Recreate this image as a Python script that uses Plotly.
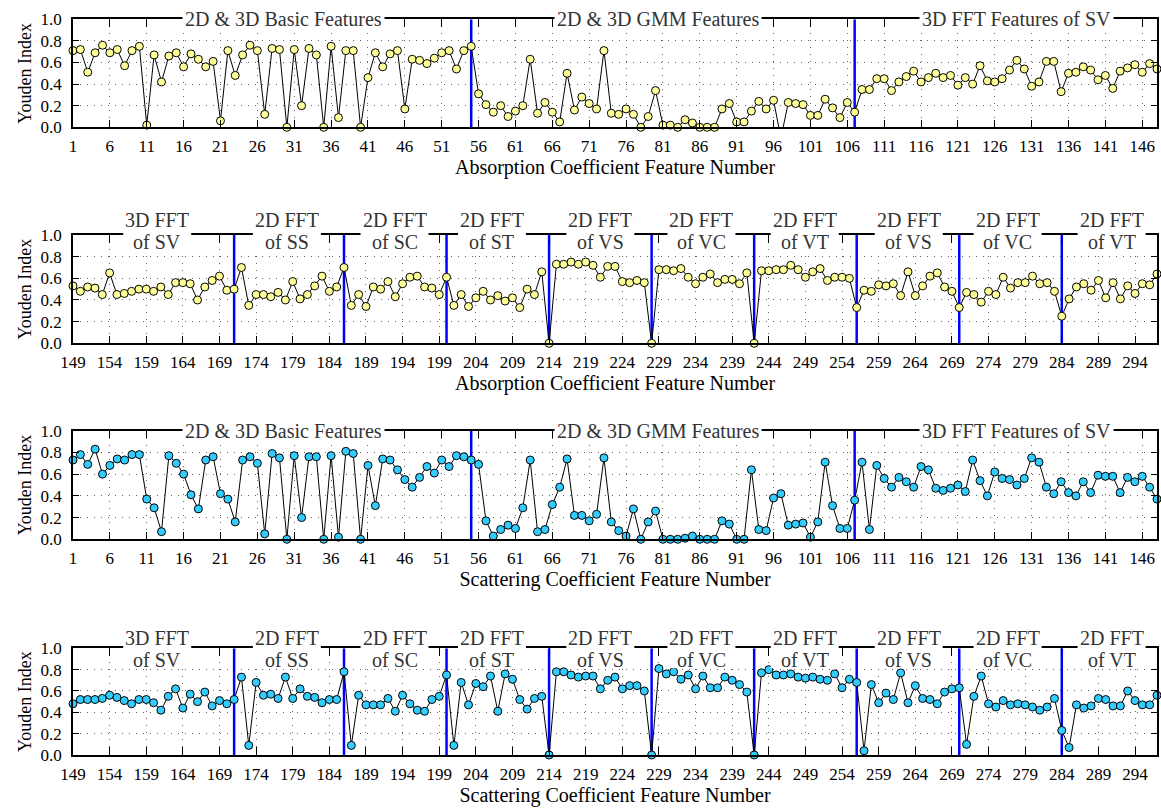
import plotly.graph_objects as go

# ---------------- data ----------------
feat_a = list(range(1, 149))     # features 1..148
feat_b = list(range(149, 298))   # features 149..297

abs_a = [0.71, 0.72, 0.51, 0.69, 0.76, 0.69, 0.72, 0.57, 0.71, 0.75,
         0.02, 0.67, 0.42, 0.66, 0.69, 0.56, 0.68, 0.63, 0.56, 0.61,
         0.06, 0.71, 0.48, 0.67, 0.76, 0.71, 0.12, 0.73, 0.72, 0.00,
         0.72, 0.20, 0.73, 0.67, 0.00, 0.75, 0.09, 0.71, 0.71, 0.00,
         0.46, 0.69, 0.56, 0.68, 0.71, 0.17, 0.63, 0.62, 0.59, 0.64,
         0.69, 0.71, 0.54, 0.71, 0.75, 0.31, 0.21, 0.14, 0.20, 0.10,
         0.15, 0.20, 0.63, 0.13, 0.23, 0.14, 0.05, 0.50, 0.16, 0.28,
         0.22, 0.17, 0.71, 0.13, 0.12, 0.17, 0.12, 0.00, 0.10, 0.34,
         0.02, 0.02, 0.00, 0.07, 0.04, 0.00, 0.00, 0.00, 0.17, 0.22,
         0.05, 0.05, 0.15, 0.24, 0.17, 0.25, -0.10, 0.23, 0.22, 0.21,
         0.11, 0.11, 0.26, 0.18, 0.09, 0.23, 0.14, 0.35, 0.35, 0.45,
         0.45, 0.34, 0.42, 0.47, 0.52, 0.42, 0.46, 0.50, 0.46, 0.48,
         0.39, 0.46, 0.40, 0.57, 0.43, 0.42, 0.45, 0.53, 0.62, 0.54,
         0.38, 0.42, 0.61, 0.61, 0.33, 0.50, 0.51, 0.56, 0.53, 0.44,
         0.48, 0.36, 0.52, 0.55, 0.58, 0.51, 0.59, 0.54]

abs_b = [0.53, 0.48, 0.52, 0.51, 0.45, 0.65, 0.45, 0.46, 0.48, 0.50,
         0.50, 0.48, 0.52, 0.45, 0.56, 0.56, 0.55, 0.40, 0.52, 0.58,
         0.62, 0.49, 0.50, 0.70, 0.35, 0.45, 0.45, 0.43, 0.47, 0.40,
         0.57, 0.41, 0.45, 0.53, 0.62, 0.48, 0.52, 0.70, 0.35, 0.45,
         0.34, 0.52, 0.50, 0.57, 0.43, 0.55, 0.61, 0.62, 0.52, 0.51,
         0.45, 0.61, 0.35, 0.45, 0.34, 0.42, 0.48, 0.40, 0.44, 0.39,
         0.42, 0.33, 0.50, 0.45, 0.66, 0.00, 0.73, 0.73, 0.75, 0.73,
         0.75, 0.72, 0.61, 0.71, 0.71, 0.57, 0.56, 0.58, 0.56, 0.00,
         0.68, 0.68, 0.67, 0.69, 0.61, 0.55, 0.61, 0.64, 0.56, 0.59,
         0.59, 0.55, 0.65, 0.00, 0.67, 0.67, 0.68, 0.68, 0.72, 0.68,
         0.61, 0.66, 0.69, 0.58, 0.61, 0.61, 0.60, 0.33, 0.49, 0.48,
         0.54, 0.53, 0.55, 0.44, 0.66, 0.44, 0.53, 0.62, 0.65, 0.52,
         0.48, 0.33, 0.47, 0.45, 0.38, 0.48, 0.45, 0.61, 0.51, 0.56,
         0.56, 0.62, 0.55, 0.56, 0.48, 0.25, 0.41, 0.52, 0.55, 0.49,
         0.58, 0.42, 0.56, 0.41, 0.53, 0.46, 0.55, 0.54, 0.64]

sca_a = [0.73, 0.78, 0.69, 0.83, 0.60, 0.68, 0.74, 0.73, 0.78, 0.78,
         0.37, 0.29, 0.07, 0.77, 0.70, 0.60, 0.41, 0.28, 0.73, 0.76,
         0.42, 0.37, 0.16, 0.73, 0.76, 0.70, 0.05, 0.79, 0.75, 0.00,
         0.77, 0.20, 0.76, 0.76, 0.00, 0.77, 0.02, 0.81, 0.79, 0.00,
         0.68, 0.31, 0.74, 0.73, 0.64, 0.55, 0.48, 0.57, 0.67, 0.61,
         0.73, 0.67, 0.77, 0.76, 0.73, 0.69, 0.17, 0.03, 0.09, 0.13,
         0.10, 0.29, 0.73, 0.07, 0.09, 0.32, 0.48, 0.74, 0.22, 0.22,
         0.17, 0.23, 0.75, 0.16, 0.08, 0.03, 0.28, 0.00, 0.16, 0.26,
         0.00, 0.00, 0.00, 0.01, 0.03, 0.00, 0.00, 0.00, 0.17, 0.14,
         0.00, 0.00, 0.64, 0.09, 0.08, 0.38, 0.42, 0.13, 0.14, 0.15,
         0.02, 0.16, 0.71, 0.31, 0.10, 0.10, 0.36, 0.71, 0.09, 0.68,
         0.56, 0.48, 0.57, 0.53, 0.48, 0.67, 0.64, 0.47, 0.45, 0.47,
         0.50, 0.44, 0.73, 0.54, 0.40, 0.62, 0.56, 0.55, 0.50, 0.56,
         0.75, 0.71, 0.48, 0.42, 0.53, 0.43, 0.40, 0.53, 0.43, 0.59,
         0.58, 0.58, 0.43, 0.57, 0.53, 0.58, 0.48, 0.37]

sca_b = [0.48, 0.52, 0.52, 0.52, 0.53, 0.56, 0.54, 0.51, 0.48, 0.52,
         0.52, 0.49, 0.42, 0.55, 0.62, 0.44, 0.57, 0.50, 0.59, 0.46,
         0.51, 0.48, 0.52, 0.73, 0.09, 0.68, 0.56, 0.57, 0.53, 0.73,
         0.53, 0.62, 0.55, 0.54, 0.49, 0.52, 0.52, 0.78, 0.09, 0.56,
         0.47, 0.47, 0.47, 0.53, 0.41, 0.56, 0.48, 0.42, 0.41, 0.52,
         0.55, 0.75, 0.09, 0.68, 0.47, 0.67, 0.64, 0.74, 0.41, 0.76,
         0.71, 0.52, 0.43, 0.53, 0.55, 0.00, 0.78, 0.78, 0.75, 0.73,
         0.74, 0.74, 0.62, 0.70, 0.73, 0.62, 0.65, 0.65, 0.60, 0.00,
         0.81, 0.76, 0.78, 0.71, 0.75, 0.62, 0.74, 0.63, 0.63, 0.73,
         0.70, 0.66, 0.59, 0.00, 0.77, 0.80, 0.75, 0.75, 0.76, 0.73,
         0.72, 0.73, 0.71, 0.70, 0.76, 0.63, 0.71, 0.68, 0.04, 0.66,
         0.49, 0.58, 0.52, 0.77, 0.49, 0.65, 0.53, 0.52, 0.48, 0.59,
         0.62, 0.63, 0.10, 0.55, 0.74, 0.48, 0.45, 0.51, 0.47, 0.48,
         0.47, 0.45, 0.42, 0.45, 0.53, 0.23, 0.07, 0.47, 0.44, 0.46,
         0.53, 0.52, 0.46, 0.46, 0.60, 0.51, 0.47, 0.47, 0.56]

bounds_a = [55, 107]
bounds_b = [171, 186, 200, 214, 228, 242, 256, 270, 284]

labels_a = ["2D & 3D Basic Features", "2D & 3D GMM Features", "3D FFT Features of SV"]
label_x_a = [29.5, 80.3, 129.0]
labels_b_top = ["3D FFT", "2D FFT", "2D FFT", "2D FFT", "2D FFT",
                "2D FFT", "2D FFT", "2D FFT", "2D FFT", "2D FFT"]
labels_b_bot = ["of SV", "of SS", "of SC", "of ST", "of VS",
                "of VC", "of VT", "of VS", "of VC", "of VT"]
label_x_b = [160.5, 178.2, 192.9, 206.2, 221.0, 234.8, 248.9, 263.1, 276.6, 290.8]

ticks_a = list(range(1, 147, 5))
ticks_b = list(range(149, 295, 5))
y_ticks = [0.0, 0.2, 0.4, 0.6, 0.8, 1.0]

# ---------------- layout helpers ----------------
W, H = 1161, 811
FONT = "Liberation Serif, Times New Roman, serif"
X_LEFT, X_RIGHT = 73, 1157
panels = [
    dict(feat=feat_a, y=abs_a, fill="#FFFF99", bounds=bounds_a, ticks=ticks_a,
         rng=[1, 148], top=19.3, bot=127.3,
         title="Absorption Coefficient Feature Number", two=False),
    dict(feat=feat_b, y=abs_b, fill="#FFFF99", bounds=bounds_b, ticks=ticks_b,
         rng=[149, 297], top=235.0, bot=343.3,
         title="Absorption Coefficient Feature Number", two=True, up=15, down=-7),
    dict(feat=feat_a, y=sca_a, fill="#33CCFF", bounds=bounds_a, ticks=ticks_a,
         rng=[1, 148], top=430.7, bot=539.3,
         title="Scattering Coefficient Feature Number", two=False),
    dict(feat=feat_b, y=sca_b, fill="#33CCFF", bounds=bounds_b, ticks=ticks_b,
         rng=[149, 297], top=648.3, bot=755.0,
         title="Scattering Coefficient Feature Number", two=True, up=10, down=-12),
]

fig = go.Figure()
annotations = []
shapes = []
layout = dict(
    width=W, height=H, margin=dict(l=0, r=0, t=0, b=0),
    paper_bgcolor="white", plot_bgcolor="white", showlegend=False,
    font=dict(family=FONT, size=17, color="black"),
)
LABEL_FONT = dict(family=FONT, size=20, color="#333333")

for i, p in enumerate(panels, start=1):
    xa = "x" if i == 1 else f"x{i}"
    ya = "y" if i == 1 else f"y{i}"
    # blue separators
    bx, by = [], []
    for b in p["bounds"]:
        bx += [b, b, None]
        by += [0, 1, None]
    fig.add_trace(go.Scatter(x=bx, y=by, mode="lines", xaxis=xa, yaxis=ya,
                             line=dict(color="#0000FF", width=2.5),
                             hoverinfo="skip", cliponaxis=False))
    # connecting line (clipped to the plot area)
    fig.add_trace(go.Scatter(x=p["feat"], y=p["y"], mode="lines",
                             xaxis=xa, yaxis=ya, cliponaxis=True,
                             line=dict(color="black", width=1), hoverinfo="skip"))
    # markers (only those inside the 0..1 range are shown)
    fig.add_trace(go.Scatter(x=p["feat"], y=[v if v >= 0 else None for v in p["y"]],
                             mode="markers", xaxis=xa, yaxis=ya, cliponaxis=False,
                             marker=dict(size=8, color=p["fill"],
                                         line=dict(color="black", width=1))))
    axis_common = dict(
        showline=True, linecolor="black", linewidth=1.5, mirror="ticks",
        ticks="inside", tickcolor="black", tickwidth=1,
        showgrid=True, gridcolor="#666666", gridwidth=1, griddash="1px,6px",
        zeroline=False, automargin=False,
        tickfont=dict(family=FONT, size=17, color="black"),
    )
    layout["xaxis" if i == 1 else f"xaxis{i}"] = dict(
        axis_common, anchor=ya, domain=[X_LEFT / W, X_RIGHT / W],
        range=p["rng"], tickvals=p["ticks"], ticklen=8, ticklabelstandoff=3,
        title=dict(text=p["title"], font=dict(family=FONT, size=20), standoff=0),
    )
    layout["yaxis" if i == 1 else f"yaxis{i}"] = dict(
        axis_common, anchor=xa, domain=[1 - p["bot"] / H, 1 - p["top"] / H],
        range=[0, 1], tickvals=y_ticks, ticktext=[f"{v:.1f}" for v in y_ticks],
        ticklen=6, ticklabelstandoff=6,
        title=dict(text="Youden Index", font=dict(family=FONT, size=18), standoff=4),
    )
    if not p["two"]:
        for txt, lx in zip(labels_a, label_x_a):
            annotations.append(dict(
                text=txt, x=lx, xref=xa, y=1, yref=f"{ya} domain",
                yanchor="middle", xanchor="center", showarrow=False,
                bgcolor="white", borderpad=2, font=LABEL_FONT))
    else:
        for t1, t2, lx in zip(labels_b_top, labels_b_bot, label_x_b):
            annotations.append(dict(
                text=t1, x=lx, xref=xa, y=1, yref=f"{ya} domain",
                yanchor="middle", xanchor="center", showarrow=False,
                yshift=p["up"], font=LABEL_FONT))
            annotations.append(dict(
                text=t2, x=lx, xref=xa, y=1, yref=f"{ya} domain",
                yanchor="middle", xanchor="center", showarrow=False,
                yshift=p["down"], font=LABEL_FONT))
            # white box behind each label's lower line (breaks the top frame)
            shapes.append(dict(
                type="rect", xref=xa, yref=f"{ya} domain",
                xsizemode="pixel", xanchor=lx, x0=-34, x1=34,
                ysizemode="pixel", yanchor=1, y0=p["down"] - 8, y1=3,
                fillcolor="white", line=dict(width=0), layer="above"))

layout["annotations"] = annotations
layout["shapes"] = shapes
fig.update_layout(**layout)
fig.write_html("out.html")
